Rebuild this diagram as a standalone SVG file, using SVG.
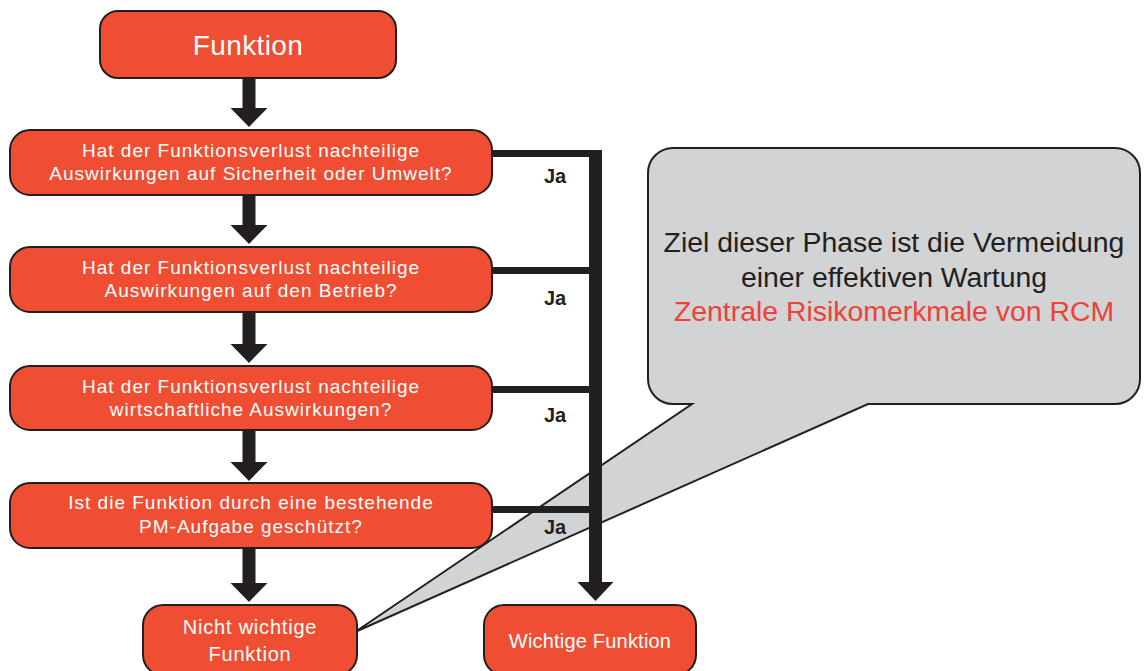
<svg xmlns="http://www.w3.org/2000/svg" width="1146" height="671" viewBox="0 0 1146 671">
<style>
.box{fill:#F04E33;stroke:#231F20;stroke-width:2}
.t{font-family:"Liberation Sans",Arial,sans-serif;fill:#FFFFFF;text-anchor:middle;font-size:19px;letter-spacing:1px}
.tb{font-size:20px;letter-spacing:0.8px}
.ja{font-family:"Liberation Sans",Arial,sans-serif;font-weight:bold;fill:#231F20;font-size:20px;text-anchor:middle}
.c{fill:#231F20}
.bt{font-family:"Liberation Sans",Arial,sans-serif;font-size:28.4px;text-anchor:middle;fill:#231F20}
</style>
<rect width="1146" height="671" fill="#FFFFFF"/>
<g id="callout">
<path d="M673,148 H1115 A25,25 0 0 1 1140,173 V379 A25,25 0 0 1 1115,404 H868 L355,632 L692,404 H673 A25,25 0 0 1 648,379 V173 A25,25 0 0 1 673,148 Z" fill="#D1D3D4" stroke="#231F20" stroke-width="2"/>
<text class="bt" x="894" y="252">Ziel dieser Phase ist die Vermeidung</text>
<text class="bt" x="894" y="287">einer effektiven Wartung</text>
<text class="bt" x="894" y="321" style="fill:#EF4136">Zentrale Risikomerkmale von RCM</text>
</g>
<g id="connectors">
<polygon class="c" points="242.5,78 255.5,78 255.5,108 267.5,108 249,127 230.5,108 242.5,108"/>
<polygon class="c" points="242.5,195 255.5,195 255.5,225 267.5,225 249,244 230.5,225 242.5,225"/>
<polygon class="c" points="242.5,312 255.5,312 255.5,344 267.5,344 249,363 230.5,344 242.5,344"/>
<polygon class="c" points="242.5,430 255.5,430 255.5,462 267.5,462 249,481 230.5,462 242.5,462"/>
<polygon class="c" points="242.5,548 255.5,548 255.5,583 267.5,583 249,602 230.5,583 242.5,583"/>
<rect class="c" x="492" y="150" width="110" height="7"/>
<rect class="c" x="492" y="267" width="97" height="7"/>
<rect class="c" x="492" y="386" width="97" height="7"/>
<rect class="c" x="492" y="506" width="97" height="7"/>
<rect class="c" x="589" y="150" width="13" height="433"/>
<polygon class="c" points="577.5,582 613.5,582 595.5,601"/>
<text class="ja" x="555" y="183">Ja</text>
<text class="ja" x="555" y="305">Ja</text>
<text class="ja" x="555" y="422">Ja</text>
<text class="ja" x="555" y="534">Ja</text>
</g>
<g id="funktion">
<rect class="box" x="100" y="11" width="296" height="67" rx="18"/>
<text class="t" x="248" y="55" style="font-size:28px;letter-spacing:0.4px">Funktion</text>
</g>
<g id="q1">
<rect class="box" x="10" y="130" width="482" height="65" rx="20"/>
<text class="t" x="251" y="157">Hat der Funktionsverlust nachteilige</text>
<text class="t" x="251" y="180">Auswirkungen auf Sicherheit oder Umwelt?</text>
</g>
<g id="q2">
<rect class="box" x="10" y="247" width="482" height="65" rx="20"/>
<text class="t" x="251" y="274">Hat der Funktionsverlust nachteilige</text>
<text class="t" x="251" y="297">Auswirkungen auf den Betrieb?</text>
</g>
<g id="q3">
<rect class="box" x="10" y="366" width="482" height="64" rx="20"/>
<text class="t" x="251" y="393">Hat der Funktionsverlust nachteilige</text>
<text class="t" x="251" y="416">wirtschaftliche Auswirkungen?</text>
</g>
<g id="q4">
<rect class="box" x="10" y="483" width="482" height="65" rx="20"/>
<text class="t" x="251" y="509">Ist die Funktion durch eine bestehende</text>
<text class="t" x="251" y="533">PM-Aufgabe geschützt?</text>
</g>
<g id="nicht-wichtig">
<rect class="box" x="143" y="605" width="214" height="70" rx="20"/>
<text class="t tb" x="250" y="634">Nicht wichtige</text>
<text class="t tb" x="250" y="661">Funktion</text>
</g>
<g id="wichtig">
<rect class="box" x="484" y="605" width="212" height="70" rx="20"/>
<text class="t" x="590" y="648" style="font-size:20px;letter-spacing:0.2px">Wichtige Funktion</text>
</g>
</svg>
